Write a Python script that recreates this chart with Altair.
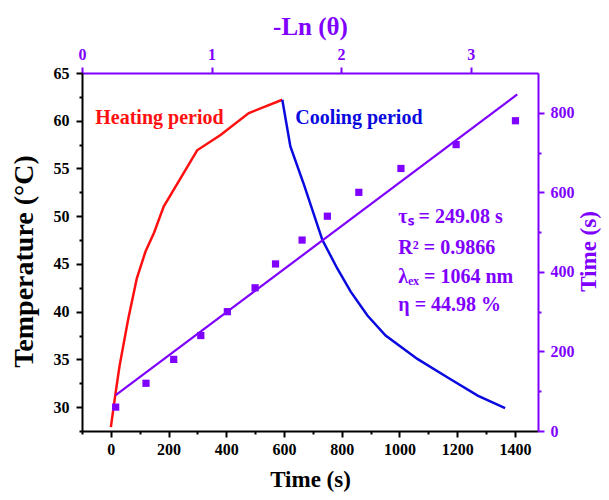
import altair as alt
import pandas as pd

# ---- data ----
heat_time = [0, 15, 30, 60, 90, 120, 150, 183, 299, 380, 478, 594]
heat_temp = [27.9, 31.2, 34.3, 39.2, 43.5, 46.3, 48.3, 51.0, 56.9, 58.5, 60.8, 62.2]

cool_time = [594, 622, 669, 733, 785, 831, 889, 952, 1062, 1167, 1271, 1366]
cool_temp = [62.2, 57.3, 53.3, 47.5, 44.5, 42.1, 39.6, 37.5, 35.05, 33.1, 31.2, 29.9]

lntheta = [0.26, 0.494, 0.708, 0.917, 1.122, 1.336, 1.494, 1.699, 1.894, 2.137, 2.462, 2.888, 3.346]
lntime = [60, 120, 180, 240, 300, 360, 420, 480, 540, 600, 660, 720, 780]

fit_x = [0.26, 3.36]
fit_time = [90, 846]

labels = ["Heating period", "Cooling period",
          "τₛ = 249.08 s", "R² = 0.9866", "λₑₓ = 1064 nm", "η = 44.98 %"]
label_s = [-54, 639, 996, 996, 996, 996]
label_T = [59.7, 59.7, 49.3, 46.05, 43.0, 40.05]

FONT = "Liberation Serif"
PURPLE = "#7f00ff"
RED = "#ff1010"
BLUE = "#0a0ae0"
label_c = [RED, BLUE, PURPLE, PURPLE, PURPLE, PURPLE]

heat_df = pd.DataFrame({"s": heat_time, "T": heat_temp})
cool_df = pd.DataFrame({"s": cool_time, "T": cool_temp})
txt_df = pd.DataFrame({"s": label_s, "T": label_T, "label": labels, "c": label_c})
pts_df = pd.DataFrame({"v": lntheta, "t": lntime})
fit_df = pd.DataFrame({"v": fit_x, "t": fit_time})

W, H = 456, 358

common = dict(labelFont=FONT, labelFontWeight="bold", labelFontSize=16,
              titleFont=FONT, titleFontWeight="bold", domainWidth=2, tickWidth=2,
              labelOverlap=False, labelFlush=False, grid=False, format="d",
              titleAlign="center", titleBaseline="middle")

x_axis = alt.Axis(orient="bottom", values=list(range(-100, 1401, 100)),
                  labelExpr="datum.value % 200 === 0 && datum.value >= 0 ? datum.label : ''",
                  tickSize={"condition": {"test": "datum.value % 200 === 0", "value": 6}, "value": 3},
                  labelPadding=4, title="Time (s)", titleFontSize=23, titleX=228, titleY=48,
                  domainColor="black", tickColor="black", labelColor="black", titleColor="black",
                  **common)
y_axis = alt.Axis(orient="left", values=[27.5 + 2.5 * i for i in range(16)],
                  labelExpr="datum.value % 5 === 0 ? datum.label : ''",
                  tickSize={"condition": {"test": "datum.value % 5 === 0", "value": 6}, "value": 3},
                  labelPadding=7, title="Temperature (°C)", titleFontSize=28, titleAngle=270,
                  titleX=-58, titleY=188,
                  domainColor="black", tickColor="black", labelColor="black", titleColor="black",
                  **common)
x2_axis = alt.Axis(orient="top", values=[0.5 * i for i in range(8)],
                   labelExpr="datum.value % 1 === 0 ? datum.label : ''",
                   tickSize={"condition": {"test": "datum.value % 1 === 0", "value": 6}, "value": 3},
                   labelPadding=5, title="-Ln (θ)", titleFontSize=25, titleX=228, titleY=-47,
                   domainColor=PURPLE, tickColor=PURPLE, labelColor=PURPLE, titleColor=PURPLE,
                   **common)
y2_axis = alt.Axis(orient="right", values=list(range(0, 801, 100)),
                   labelExpr="datum.value % 200 === 0 ? datum.label : ''",
                   tickSize={"condition": {"test": "datum.value % 200 === 0", "value": 6}, "value": 3},
                   labelPadding=6, title="Time (s)", titleFontSize=23, titleAngle=270,
                   titleX=50, titleY=178,
                   domainColor=PURPLE, tickColor=PURPLE, labelColor=PURPLE, titleColor=PURPLE,
                   **common)

X = alt.X("s:Q", scale=alt.Scale(domain=[-100, 1480], nice=False, zero=False), axis=x_axis)
Y = alt.Y("T:Q", scale=alt.Scale(domain=[27.5, 65], nice=False, zero=False), axis=y_axis)
X2 = alt.X("v:Q", scale=alt.Scale(domain=[0, 3.52], nice=False, zero=False), axis=x2_axis)
Y2 = alt.Y("t:Q", scale=alt.Scale(domain=[0, 900], nice=False, zero=False), axis=y2_axis)

heat = alt.Chart(heat_df).mark_line(color=RED, strokeWidth=2.5).encode(x=X, y=Y)
cool = alt.Chart(cool_df).mark_line(color=BLUE, strokeWidth=2.5).encode(x=X, y=Y)
txt = alt.Chart(txt_df).mark_text(font=FONT, fontWeight="bold", fontSize=20,
                                  align="left", baseline="alphabetic").encode(
    x=X, y=Y, text="label:N", color=alt.Color("c:N", scale=None))
left = alt.layer(heat, cool, txt)

pts = alt.Chart(pts_df).mark_square(size=52, color=PURPLE, opacity=1).encode(x=X2, y=Y2)
fit = alt.Chart(fit_df).mark_line(color=PURPLE, strokeWidth=2.2).encode(x=X2, y=Y2)
right = alt.layer(fit, pts)

chart = alt.layer(left, right).resolve_scale(x="independent", y="independent").properties(
    width=W, height=H,
    autosize=alt.AutoSizeParams(type="none"),
    padding={"left": 74, "top": 65, "right": 63, "bottom": 61},
).configure_view(stroke=None).configure(background="white")

chart.save("out.html", embed_options={"renderer": "svg", "actions": False})
